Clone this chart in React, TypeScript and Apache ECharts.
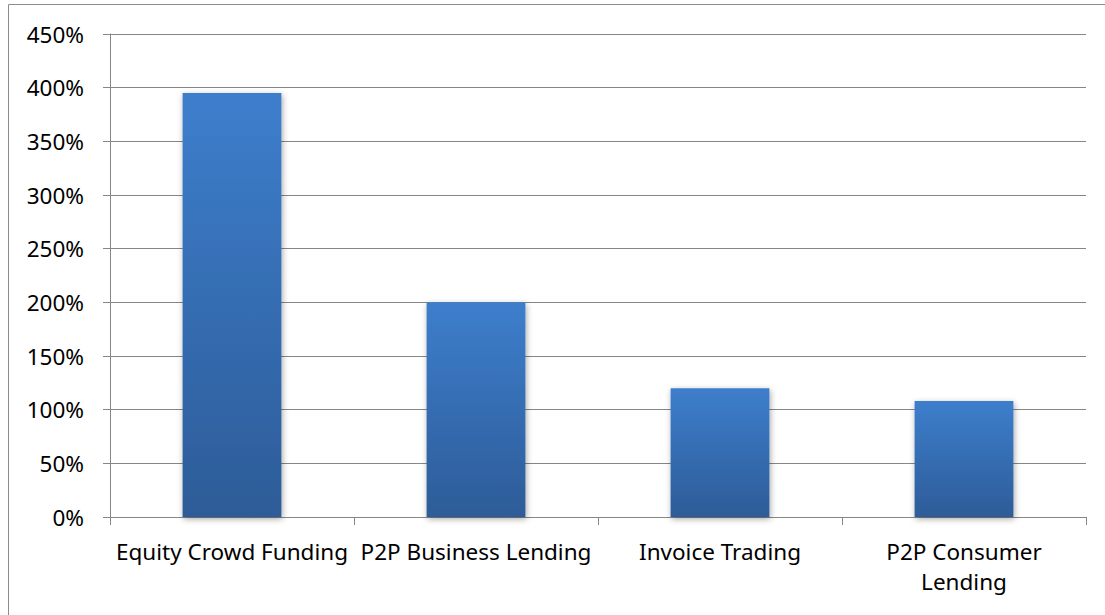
import React, { useEffect, useRef } from "react";
import * as echarts from "echarts";

const categories = [
  "Equity Crowd Funding",
  "P2P Business Lending",
  "Invoice Trading",
  "P2P Consumer\nLending",
];
const growthValues = [395, 200, 120, 108];
const yTicks = { min: 0, max: 450, interval: 50 };

export default function App() {
  const ref = useRef<HTMLDivElement>(null);
  useEffect(() => {
    if (!ref.current) return;
    const chart = echarts.init(ref.current, null, { renderer: "svg" });
    const font = "Noto Sans";
    chart.setOption({
      animation: false,
      backgroundColor: "#ffffff",
      textStyle: { fontFamily: font },
      graphic: [
        {
          type: "rect",
          shape: { x: 8.5, y: 4.5, width: 1200, height: 700 },
          style: { fill: "none", stroke: "#8c8c8c", lineWidth: 1 },
          silent: true,
        },
      ],
      grid: { left: 110, right: 19, top: 34, bottom: 98, containLabel: false },
      xAxis: {
        type: "category",
        data: categories,
        axisLine: { show: true, lineStyle: { color: "#868686", width: 1 } },
        axisTick: { show: true, length: 8, alignWithLabel: false, lineStyle: { color: "#868686" } },
        axisLabel: {
          interval: 0,
          margin: 19,
          color: "#000000",
          fontFamily: font,
          fontSize: 22.5,
          lineHeight: 30,
        },
      },
      yAxis: {
        type: "value",
        min: yTicks.min,
        max: yTicks.max,
        interval: yTicks.interval,
        axisLine: { show: true, lineStyle: { color: "#868686", width: 1 } },
        axisTick: { show: true, length: 7, lineStyle: { color: "#868686" } },
        splitLine: { show: true, lineStyle: { color: "#868686", width: 1 } },
        axisLabel: {
          formatter: "{value}%",
          margin: 26,
          color: "#000000",
          fontFamily: font,
          fontSize: 22.5,
        },
      },
      series: [
        {
          type: "bar",
          data: growthValues,
          barWidth: "40.5%",
          itemStyle: {
            color: new echarts.graphic.LinearGradient(0, 0, 0, 1, [
              { offset: 0, color: "#3d7ecc" },
              { offset: 1, color: "#2d5c98" },
            ]),
            shadowBlur: 6,
            shadowColor: "rgba(0,0,0,0.35)",
            shadowOffsetX: 1,
            shadowOffsetY: 2,
          },
        },
      ],
    });
    return () => chart.dispose();
  }, []);
  return (
    <div
      ref={ref}
      style={{ position: "fixed", left: 0, top: 0, width: 1105, height: 615 }}
    />
  );
}
